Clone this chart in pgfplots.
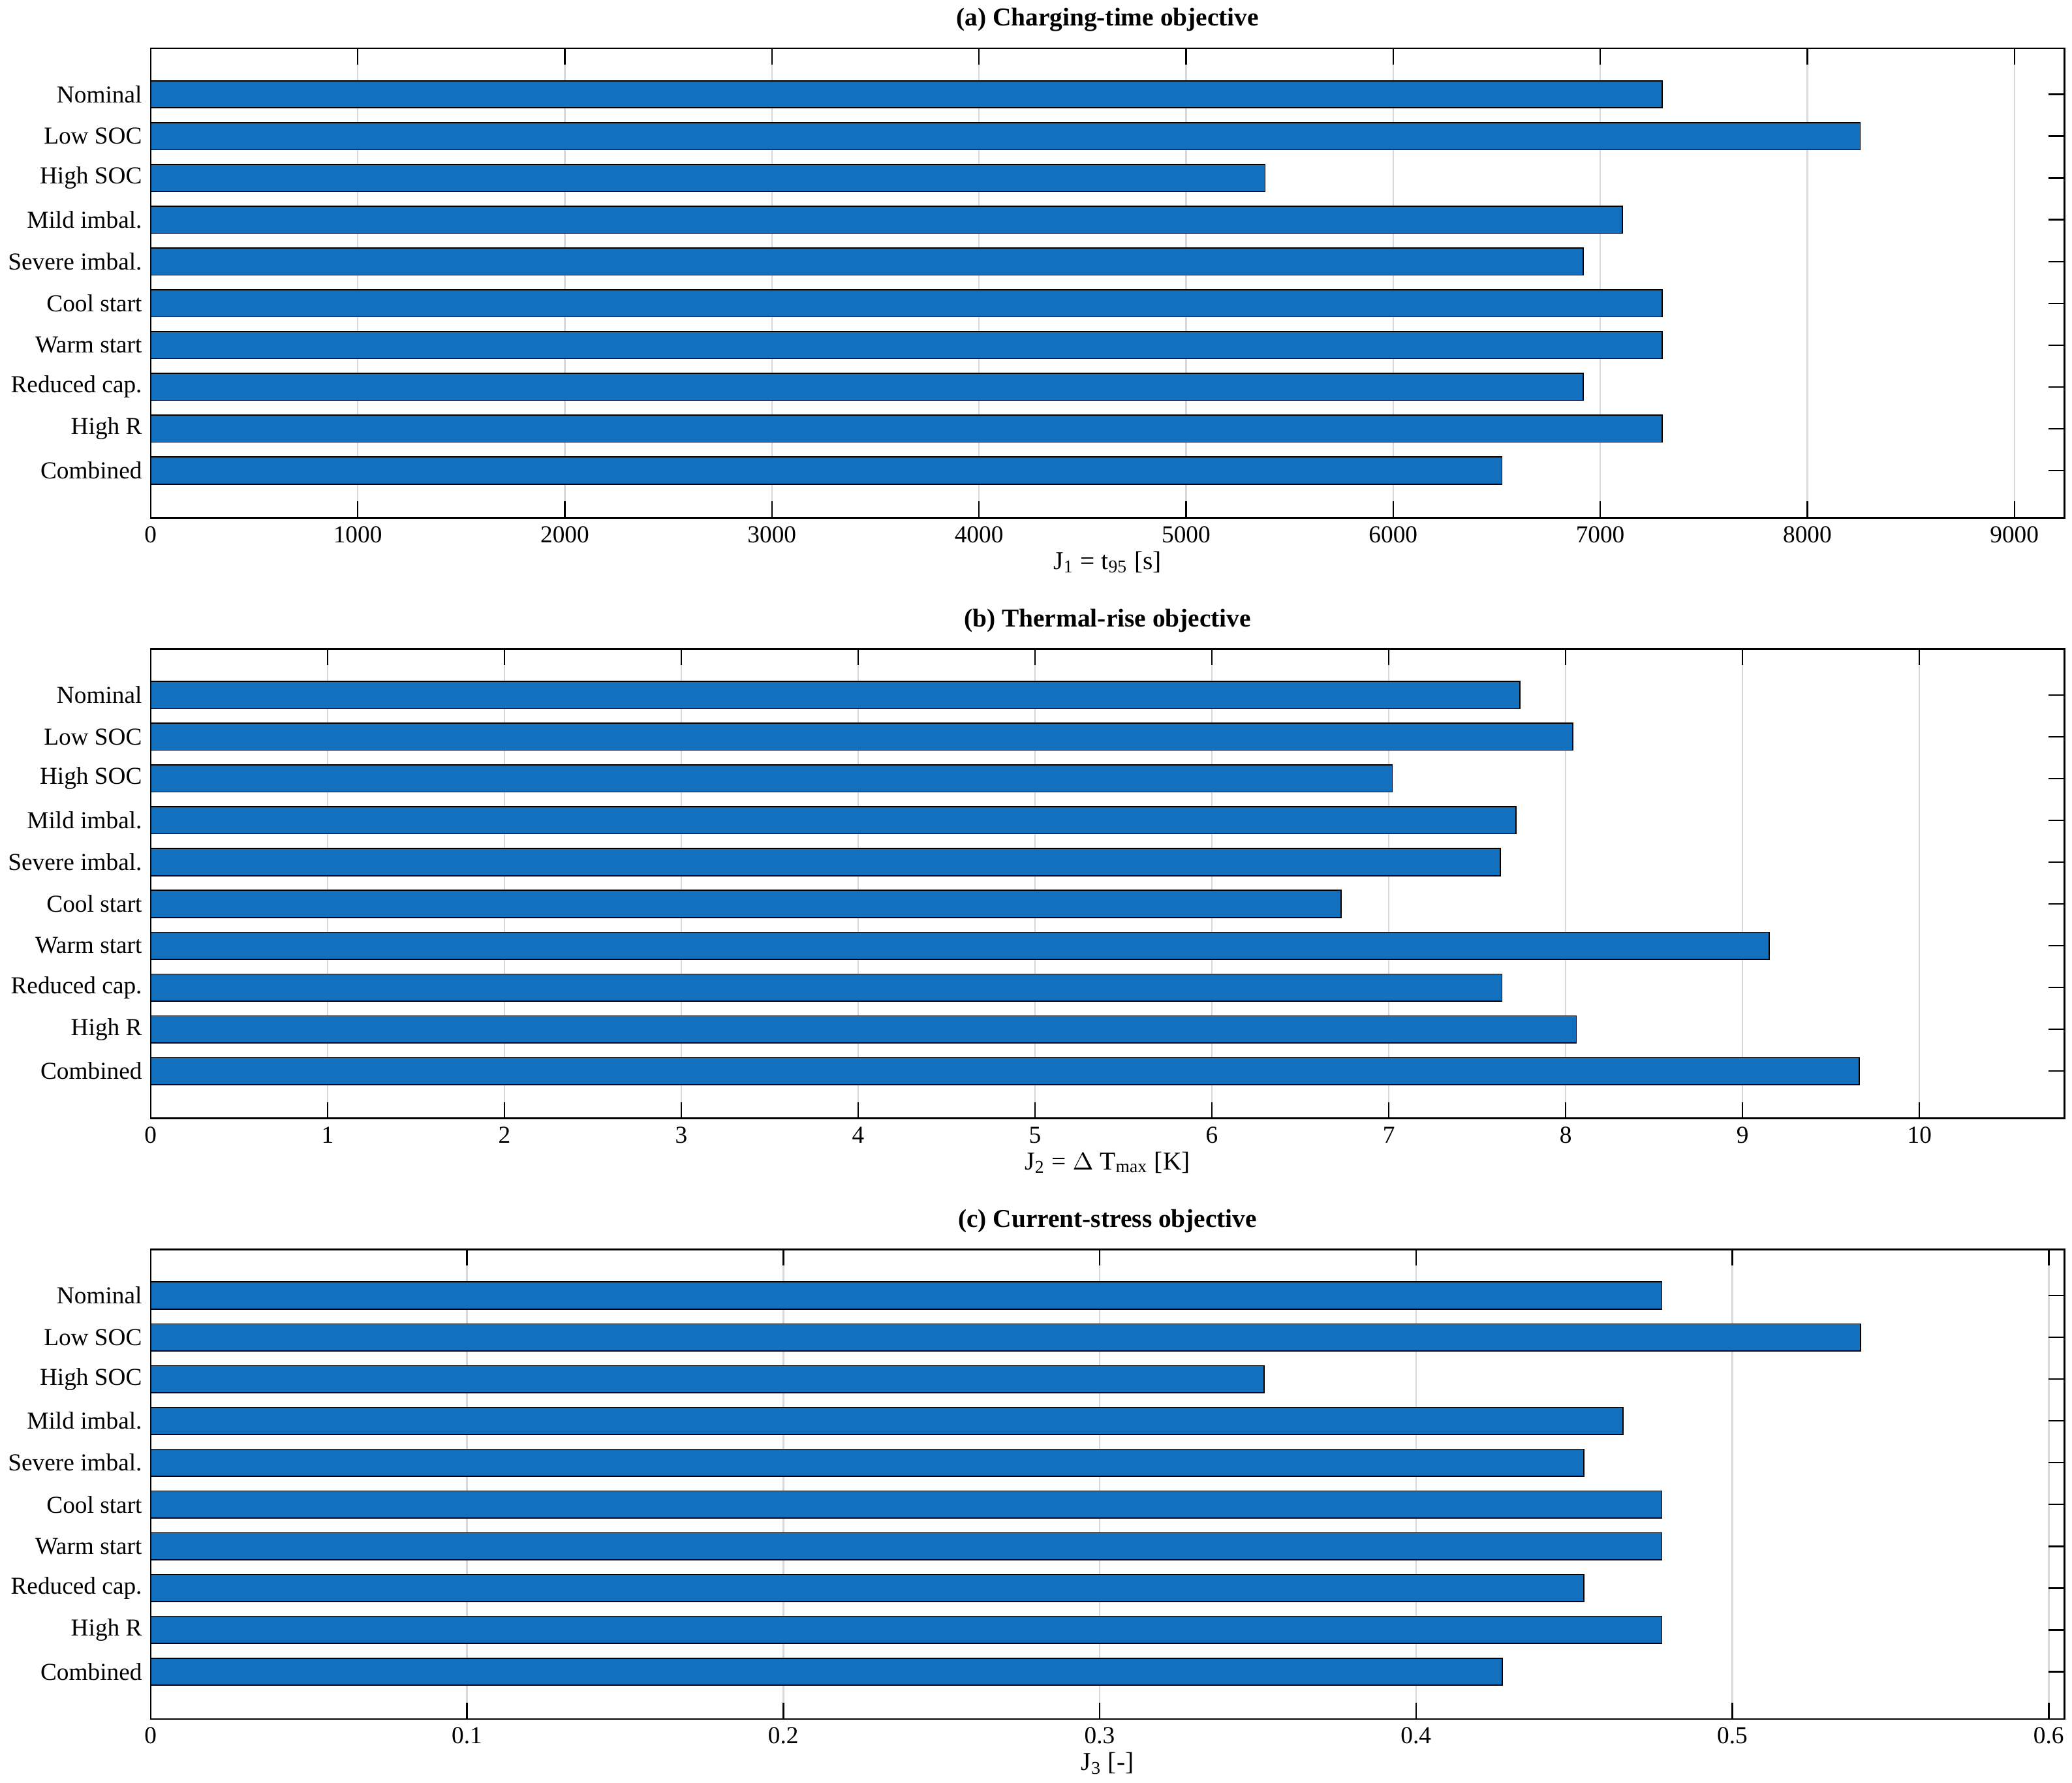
\documentclass[border=0pt]{standalone}
\usepackage{pgfplots}
\pgfplotsset{compat=1.18}
\usepackage{fontspec}
\setmainfont{Liberation Serif}
\definecolor{barc}{RGB}{17,113,190}
\begin{document}
\fontsize{9}{10}\selectfont
\begin{tikzpicture}
\pgfplotsset{every axis/.style={
  width=707.5pt, height=173.5pt, scale only axis,
  xbar, bar width=10pt, y dir=reverse,
  ymin=-0.1, ymax=11.13, xmin=0,
  ytick={1,...,10},
  yticklabels={Nominal,Low SOC,High SOC,Mild imbal.,Severe imbal.,Cool start,Warm start,Reduced cap.,High R,Combined},
  xmajorgrids, grid style={gray!30, line width=0.6pt},
  tick align=inside, tick style={black, line width=0.6pt}, major tick length=6pt,
  axis line style={line width=0.6pt},
  /pgf/number format/assume math mode=true,
  scaled x ticks=false,
  /pgf/number format/1000 sep={},
  ticklabel style={font=\fontsize{9}{10}\selectfont},
  label style={font=\fontsize{9.5}{10}\selectfont},
  title style={font=\bfseries\fontsize{9.5}{10}\selectfont, yshift=-3pt},
  xlabel style={yshift=3pt},
}}
\begin{axis}[at={(0,444pt)}, xmax=9242, xtick={0,1000,...,9000},
  title={(a) Charging-time objective}, xlabel={J\textsubscript{1} = t\textsubscript{95} [s]}]
\addplot[fill=barc, draw=black, line width=0.4pt] coordinates {(7300,1)(8256,2)(5382,3)(7107,4)(6917,5)(7300,6)(7300,7)(6917,8)(7300,9)(6525,10)};
\end{axis}
\begin{axis}[at={(0,222pt)}, xmax=10.82, xtick={0,...,10},
  title={(b) Thermal-rise objective}, xlabel={J\textsubscript{2} = $\Delta$ T\textsubscript{max} [K]}]
\addplot[fill=barc, draw=black, line width=0.4pt] coordinates {(7.74,1)(8.04,2)(7.02,3)(7.72,4)(7.63,5)(6.73,6)(9.15,7)(7.64,8)(8.06,9)(9.66,10)};
\end{axis}
\begin{axis}[at={(0,0pt)}, xmax=0.605, xtick={0,0.1,...,0.6},
  xticklabels={0,0.1,0.2,0.3,0.4,0.5,0.6},
  title={(c) Current-stress objective}, xlabel={J\textsubscript{3} [-]}]
\addplot[fill=barc, draw=black, line width=0.4pt] coordinates {(0.4777,1)(0.5406,2)(0.352,3)(0.4654,4)(0.453,5)(0.4777,6)(0.4777,7)(0.453,8)(0.4777,9)(0.4273,10)};
\end{axis}
\end{tikzpicture}
\end{document}
